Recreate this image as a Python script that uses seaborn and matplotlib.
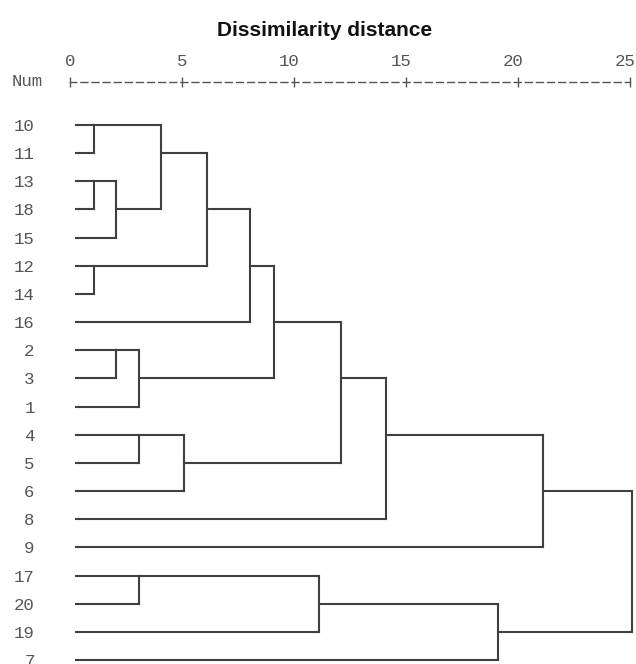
import numpy as np
import pandas as pd
import matplotlib
matplotlib.use("Agg")
import matplotlib.pyplot as plt
import matplotlib.transforms as mtransforms
import seaborn as sns

# ---- data ----
leaf_labels = ['10', '11', '13', '18', '15', '12', '14', '16', '2', '3',
               '1', '4', '5', '6', '8', '9', '17', '20', '19', '7']
# agglomeration schedule: leaves are 0..19, new clusters get ids 20, 21, ...
merge_left = [0, 2, 5, 21, 8, 24, 11, 16, 20, 26, 28, 30, 31, 27, 32, 34, 33, 35, 37]
merge_right = [1, 3, 6, 4, 9, 10, 12, 17, 23, 13, 22, 7, 25, 18, 29, 14, 19, 15, 36]
merge_heights = [1.05, 1.05, 1.05, 2.05, 2.05, 3.1, 3.1, 3.1, 4.05, 5.1,
                 6.1, 8.05, 9.1, 11.1, 12.1, 14.1, 19.1, 21.1, 25.1]
axis_ticks = [0, 5, 10, 15, 20, 25]
leaf_start = 0.27
title = "Dissimilarity distance"

# ---- build segments (SPSS-style rows) ----
n = len(leaf_labels)
row = {i: i for i in range(n)}
height = {i: leaf_start for i in range(n)}
segs = []
for k, (a, b, h) in enumerate(zip(merge_left, merge_right, merge_heights)):
    ra, rb = row[a], row[b]
    segs.append(([height[a], h], [ra, ra]))
    segs.append(([height[b], h], [rb, rb]))
    segs.append(([h, h], [ra, rb]))
    cid = n + k
    row[cid] = (min(ra, rb) + max(ra, rb)) // 2
    height[cid] = h

recs = []
for s, (xs, ys) in enumerate(segs):
    for x, y in zip(xs, ys):
        recs.append({"x": x, "y": y, "seg": s})
df = pd.DataFrame(recs)

# ---- plot ----
sns.set_theme(style="white")
plt.rcParams['font.family'] = ['Liberation Mono', 'DejaVu Sans Mono']

W, H = 636, 664
fig = plt.figure(figsize=(W / 100, H / 100), dpi=100)
ax_left, ax_right = 70, 630
ax_top = 82
ax = fig.add_axes([ax_left / W, 0, (ax_right - ax_left) / W, 1 - ax_top / H])

line_col = "#404040"
text_col = "#555555"
sns.lineplot(data=df, x="x", y="y", units="seg", estimator=None, sort=False,
             color=line_col, linewidth=1.5, ax=ax, legend=False)
for l in ax.lines:
    l.set_clip_on(False)
    l.set_solid_capstyle('projecting')

row_px = 28.18
ax.set_xlim(0, 25)
ax.set_ylim(n - 1 + (H - 660) / row_px, -(125 - ax_top) / row_px)

ax.set_yticks(range(n))
ax.set_yticklabels(leaf_labels)
ax.set_xticks(axis_ticks)
ax.set_xticklabels([str(t) for t in axis_ticks])
ax.xaxis.tick_top()
ax.set_xlabel("")
ax.set_ylabel("")

for side in ["left", "right", "bottom"]:
    ax.spines[side].set_visible(False)
ax.spines["top"].set_linestyle((0.5, (5.0, 3.0)))
ax.spines["top"].set_color("#555555")
ax.spines["top"].set_linewidth(1.0)

ax.tick_params(axis="x", which="both", top=True, bottom=False, direction="inout",
               length=7, width=1.0, color="#555555", pad=6,
               labelsize=12.5, labelcolor=text_col)
ax.tick_params(axis="y", which="both", left=False, right=False, pad=19.5,
               labelsize=12.5, labelcolor=text_col)

# SPSS style: last digit of each scale label sits over its tick
offset = mtransforms.ScaledTranslation(5.5 / 100, 0, fig.dpi_scale_trans)
for lab in ax.get_xticklabels():
    lab.set_horizontalalignment("right")
    lab.set_transform(lab.get_transform() + offset)

fig.text(43 / W, 1 - 82 / H, "Num", ha="right", va="center", fontsize=12.5,
         color=text_col)
fig.text(325 / W, 1 - 30 / H, title, ha="center", va="center", fontsize=15,
         fontweight="bold", family=["Liberation Sans", "DejaVu Sans"], color="#111111")

fig.savefig("out.png", dpi=100)
